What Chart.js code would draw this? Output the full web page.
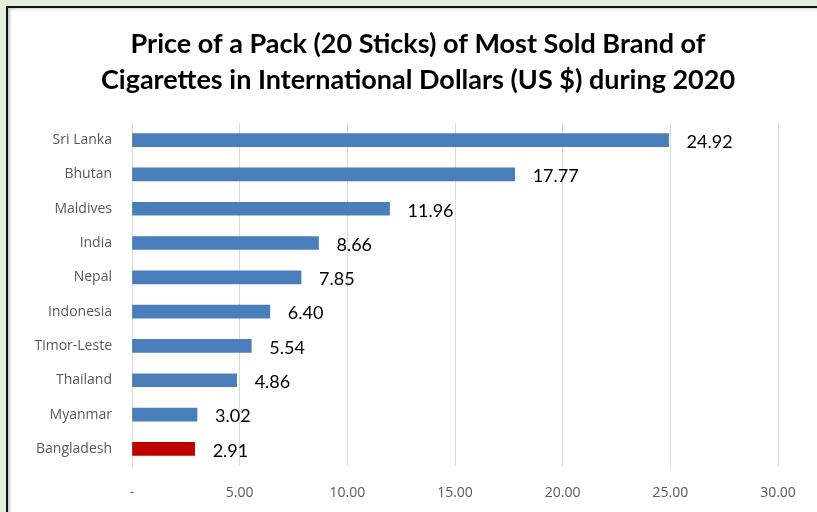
<!DOCTYPE html>
<html>
<head>
<meta charset="utf-8">
<script src="https://cdn.jsdelivr.net/npm/chart.js@4"></script>
<style>
  html, body { margin: 0; padding: 0; }
  body { background: #e2efda; width: 817px; height: 512px; overflow: hidden; position: relative; }
  #marco {
    position: absolute; left: 6px; top: 6px;
    width: 820px; height: 520px;
    border: 2px solid #111; background: #fff;
    box-shadow: inset 3px 2px 3px -1px #c8c8c8;
  }
  #grafico { display: block; }
</style>
</head>
<body>
<div id="marco">
  <canvas id="grafico" width="820" height="504"></canvas>
</div>
<script>
// Datos
const paises = ['Sri Lanka', 'Bhutan', 'Maldives', 'India', 'Nepal', 'Indonesia', 'Timor-Leste', 'Thailand', 'Myanmar', 'Bangladesh'];
const precios = [24.92, 17.77, 11.96, 8.66, 7.85, 6.40, 5.54, 4.86, 3.02, 2.91];
const tituloLineas = ['Price of a Pack (20 Sticks) of Most Sold Brand of', 'Cigarettes in International Dollars (US $) during 2020'];

const azul = '#4a7ebb';
const rojo = '#c00000';
let colores = paises.map(p => p === 'Bangladesh' ? rojo : azul);

// Plugin para escribir el valor al final de cada barra
const etiquetasValor = {
  id: 'etiquetasValor',
  afterDatasetsDraw(chart) {
    const ctx = chart.ctx;
    const meta = chart.getDatasetMeta(0);
    ctx.save();
    ctx.font = '18px Lato, "Open Sans", sans-serif';
    ctx.fillStyle = '#000';
    ctx.textBaseline = 'middle';
    ctx.textAlign = 'left';
    meta.data.forEach((barra, i) => {
      ctx.fillText(precios[i].toFixed(2), barra.x + 18, barra.y + 2);
    });
    ctx.restore();
  }
};

let ref = document.getElementById('grafico');

let config = {
  type: 'bar',
  data: {
    labels: paises,
    datasets: [{
      data: precios,
      backgroundColor: colores,
      barThickness: 13
    }]
  },
  options: {
    indexAxis: 'y',
    responsive: false,
    animation: false,
    layout: { padding: 0 },
    plugins: {
      legend: { display: false },
      tooltip: { enabled: false },
      title: {
        display: true,
        text: tituloLineas,
        color: '#000',
        font: { family: 'Lato, "Open Sans", sans-serif', size: 27, weight: 'bold', lineHeight: 1.333 },
        padding: { top: 18, bottom: 25 }
      }
    },
    scales: {
      x: {
        min: 0,
        max: 30,
        ticks: {
          stepSize: 5,
          color: '#595959',
          padding: 19,
          font: { family: '"Open Sans", Lato, sans-serif', size: 14 },
          callback: v => v === 0 ? '-' : v.toFixed(2)
        },
        grid: { color: '#d9d9d9', drawTicks: false },
        border: { display: false },
        afterFit: s => { s.height = 46; }
      },
      y: {
        ticks: {
          color: '#595959',
          padding: 20,
          font: { family: '"Open Sans", Lato, sans-serif', size: 14 }
        },
        grid: { display: false, drawTicks: false },
        border: { display: true, color: '#d9d9d9' },
        afterFit: s => { s.width = 124; }
      },
      // eje vacio a la derecha solo para dejar margen
      margenDer: {
        type: 'linear',
        position: 'right',
        ticks: { display: false },
        grid: { display: false, drawTicks: false },
        border: { display: false },
        afterFit: s => { s.width = 50; }
      }
    }
  },
  plugins: [etiquetasValor]
};

let chart = new Chart(ref, config);
</script>
</body>
</html>
